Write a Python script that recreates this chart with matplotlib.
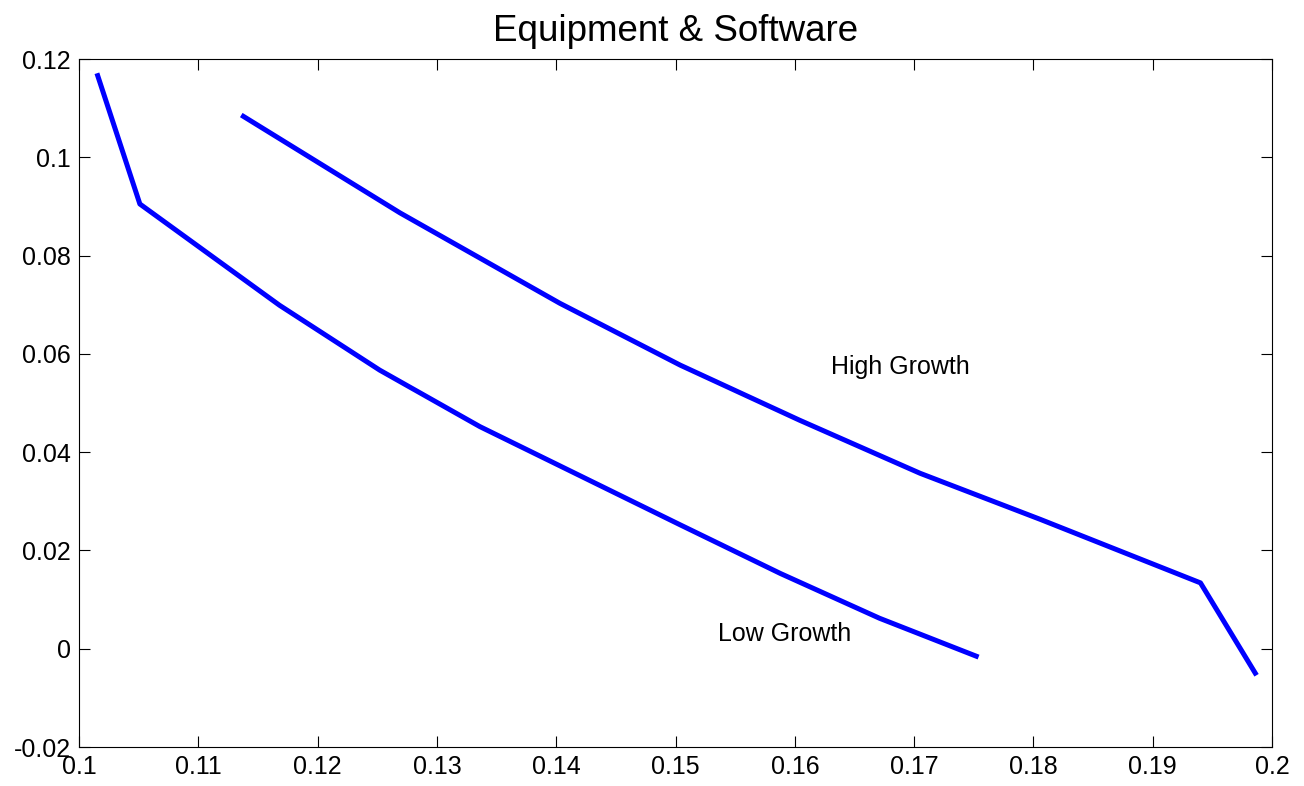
import matplotlib
matplotlib.use("Agg")
import matplotlib.pyplot as plt
from matplotlib.ticker import FuncFormatter

# values
low_x = [0.1015, 0.1051, 0.1168, 0.1252, 0.1336, 0.1420, 0.1504, 0.1588, 0.1671, 0.1754]
low_y = [0.1171, 0.0905, 0.0699, 0.0567, 0.0452, 0.0352, 0.0252, 0.0153, 0.0062, -0.0017]

high_x = [0.1136, 0.1269, 0.1403, 0.1504, 0.1604, 0.1705, 0.1806, 0.1940, 0.1987]
high_y = [0.1086, 0.0887, 0.0703, 0.0577, 0.0465, 0.0357, 0.0263, 0.0134, -0.0054]

x_ticks = [0.1, 0.11, 0.12, 0.13, 0.14, 0.15, 0.16, 0.17, 0.18, 0.19, 0.2]
y_ticks = [-0.02, 0, 0.02, 0.04, 0.06, 0.08, 0.1, 0.12]

plt.rcParams['font.family'] = ['Liberation Sans', 'DejaVu Sans']

fig = plt.figure(figsize=(13.04, 7.86), dpi=100)
ax = fig.add_axes([0.0606, 0.0496, 0.9149, 0.8753])

ax.plot(low_x, low_y, color='#0000ff', linewidth=3.6, solid_capstyle='butt')
ax.plot(high_x, high_y, color='#0000ff', linewidth=3.6, solid_capstyle='butt')

ax.text(0.1630, 0.0573, 'High Growth', fontsize=18, va='center', ha='left')
ax.text(0.1536, 0.0030, 'Low Growth', fontsize=18, va='center', ha='left')

ax.set_xlim(0.1, 0.2)
ax.set_ylim(-0.02, 0.12)
ax.set_xticks(x_ticks)
ax.set_yticks(y_ticks)
fmt = FuncFormatter(lambda v, p: '%g' % round(v, 4))
ax.xaxis.set_major_formatter(fmt)
ax.yaxis.set_major_formatter(fmt)
ax.tick_params(direction='in', length=8, width=0.8, labelsize=18, top=True, right=True, pad=6)
for s in ax.spines.values():
    s.set_linewidth(0.8)

ax.set_title('Equipment & Software', fontsize=26.5, pad=13)

fig.savefig('out.png', dpi=100)
